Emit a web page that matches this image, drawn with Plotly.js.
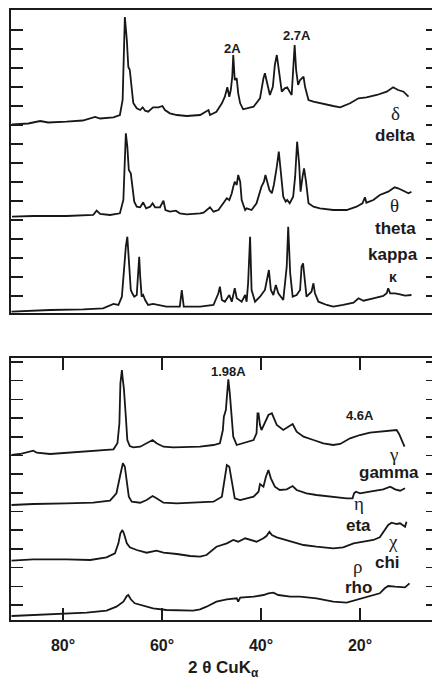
<!DOCTYPE html>
<html>
<head>
<meta charset="utf-8">
<script src="https://cdn.plot.ly/plotly-3.0.1.min.js"></script>
<style>
html,body{margin:0;padding:0;background:#fff;overflow:hidden;}
#chart{width:438px;height:680px;}
</style>
</head>
<body>
<div id="chart"></div>
<script>
// 2θ (deg) , intensity (arbitrary units)
const deltaPts = [[90.3,2.7],[87,3.5],[84.6,6],[83,4.5],[79.3,5.3],[76,6.5],[73.5,10],[72.5,8.5],[69.8,9.7],[68.5,12],[67.95,27],[67.7,94],[67.5,110],[67.1,87],[66.8,60],[66.5,57],[66.1,40],[65.8,24],[65.1,18.7],[64.4,17],[63.9,19.7],[63.4,16.3],[62.8,15.3],[61.8,19.7],[60.7,19.7],[59.9,21],[59.4,17],[58.4,13.7],[57.0,12],[55.0,11],[52.3,12],[50.6,17],[50.3,12],[49.0,15.3],[47.9,23.7],[47.3,30.3],[46.8,39.7],[46.4,30.3],[46.1,37],[45.8,50.3],[45.6,72],[45.3,47],[44.9,48.7],[44.6,33.7],[44.2,23.7],[43.6,17.7],[41.5,20.3],[40.2,28.7],[39.5,48.7],[39.2,53.7],[38.9,47],[38.2,32],[37.6,40.3],[37.2,62],[36.8,72],[36.5,60.3],[35.8,35.3],[35.2,38.7],[34.7,39.7],[34.2,35.3],[33.8,32],[33.5,57],[33.2,82],[32.9,57],[32.5,42],[32.1,47],[31.8,48.7],[31.4,50.3],[31.1,40.3],[30.4,27],[29.4,25.3],[28.1,23.7],[25.4,21],[24.0,19.7],[22.0,23.7],[20.3,28.7],[18.7,29.7],[16.6,32],[14.6,35.3],[13.3,39.7],[12.3,37],[11.2,35.3],[10.2,30.3]];
const thetaPts = [[90.3,0.3],[86.0,1],[79.3,1],[73.9,2],[73.2,6.3],[72.5,3],[70.5,2],[68.5,3.7],[67.8,17],[67.5,67],[67.3,83.7],[67.0,70.3],[66.7,47],[66.3,43.7],[66.0,30.3],[65.6,15.3],[65.1,10.3],[64.4,9.7],[63.8,14.7],[63.2,8.7],[62.4,10.3],[61.9,13.7],[61.4,9.7],[60.4,9.7],[59.7,16.3],[59.3,7],[58.4,5.3],[57.2,6.3],[56.4,3.7],[55.0,2.7],[52.3,3.7],[51.6,4.3],[50.3,9.7],[49.6,5.3],[48.6,7],[47.5,15.3],[46.9,18.7],[46.4,17],[45.9,23.7],[45.6,30.3],[45.3,35.3],[44.9,32],[44.6,42],[44.2,35.3],[43.9,17],[43.2,7],[42.9,8.7],[41.9,7],[40.9,13.7],[39.9,30.3],[39.4,35.3],[39.1,42],[38.7,35.3],[38.3,27],[37.8,23.7],[37.4,32],[36.8,50.3],[36.4,65.3],[36.0,45.3],[35.5,20.3],[35.0,15.3],[34.7,17],[34.2,13.7],[33.5,20.3],[33.1,40.3],[32.7,75.3],[32.3,53.7],[32.0,25.3],[31.6,40.3],[31.3,48.7],[30.9,35.3],[30.4,13.7],[29.4,10.3],[28.1,8.7],[25.4,7],[22.7,7],[20.7,10.3],[19.5,13.7],[19.0,19.7],[18.7,14.3],[17.3,17],[16.0,22],[14.3,25.3],[13.0,29.7],[12.3,28.7],[11.2,26.3],[10.2,23.7],[9.6,25.3]];
const kappaPts = [[90.4,-3.7],[86,-2.7],[82.6,-2],[75.9,-1.3],[71.9,-0.3],[69.8,4],[68.8,3],[68.1,11.3],[67.7,41.3],[67.3,61.3],[67.0,71.3],[66.7,44.7],[66.3,18],[66.0,14.7],[65.6,11.3],[65.1,13],[64.8,41.3],[64.6,51.3],[64.4,31.3],[64.1,11.3],[63.8,13],[63.4,8],[62.8,3],[61.8,4],[59.1,1.3],[56.4,1.3],[56.0,18],[55.6,1.3],[52.3,1.3],[49.6,3],[48.6,14.7],[48.3,21.3],[47.9,8],[47.3,6.3],[46.4,13],[45.9,6.3],[45.3,19.7],[44.9,9.7],[43.9,6.3],[43.2,13],[42.9,6.3],[42.6,24.7],[42.2,71.3],[41.9,18],[41.2,6.3],[40.2,11.3],[39.2,18],[38.6,34.7],[38.4,38],[38.0,18],[37.5,13],[37.0,23],[36.5,14.7],[35.5,8],[34.8,41.3],[34.5,81.3],[34.1,34.7],[33.6,11.3],[32.8,13],[32.1,18],[31.8,41.3],[31.5,44.7],[31.2,28],[30.8,11.3],[29.8,16.3],[29.4,24.7],[29.1,14.7],[28.4,6.3],[26.7,3],[25.4,1.3],[23.4,3],[21.3,5.3],[20.3,9.7],[19.3,7.3],[17.3,9.7],[15.3,12],[14.6,14.7],[14.3,19.7],[13.9,14.7],[12.9,14.7],[11.9,13.7],[10.9,12.3],[9.6,13]];
const gammaPts = [[90.4,-1],[88.7,0],[86.0,3.3],[85.3,1.3],[82.6,0],[79.3,1.3],[75.9,2.3],[72.5,3.3],[69.8,4.7],[69.0,10.7],[68.6,30.7],[68.4,70.7],[68.1,84],[67.9,74],[67.7,65.7],[67.3,37.3],[67.0,14],[66.5,8],[65.8,6.7],[64.4,7.3],[63.1,10.7],[61.9,14],[61.1,10.7],[59.7,7.3],[57.7,6.7],[55.0,6.7],[52.3,7.3],[49.6,9],[48.3,10.7],[47.7,24],[47.5,37.3],[47.1,44],[46.7,74],[46.6,74.7],[46.3,60.7],[45.9,37.3],[45.6,17.3],[44.9,9],[43.6,10.7],[42.9,12.3],[41.5,14],[40.9,20.7],[40.7,40.7],[40.5,40.7],[40.2,29],[39.9,24],[39.2,32.3],[38.5,39],[37.8,40.7],[37.5,37.3],[36.8,29],[35.5,24],[34.3,27.3],[33.6,30],[32.8,22.3],[31.4,17.3],[29.4,14],[27.4,10.7],[25.4,9],[24.0,10],[22.0,15.7],[20.0,19],[18.0,21.3],[16.0,22.3],[13.9,23],[12.6,24],[12.1,20],[11.6,14],[11.0,7.3]];
const etaPts = [[90.4,-1],[86.0,0],[79.3,0.7],[73.9,1.3],[70.5,3.3],[69.2,10.7],[68.5,27.3],[67.9,40.7],[67.5,37.3],[67.1,20.7],[66.7,7.3],[66.1,2.3],[64.4,1.3],[63.1,4],[61.9,8],[61.1,5.7],[59.7,1.3],[57.0,0.7],[53.7,1.3],[49.6,2.3],[47.9,7.3],[47.5,20.7],[46.9,39],[46.4,37.3],[46.1,27.3],[45.7,14],[45.3,5.7],[44.2,4],[41.5,7.3],[40.5,12.3],[40.2,20],[39.5,17.3],[39.0,27.3],[38.5,34],[38.0,25.7],[37.2,17.3],[36.2,14],[34.8,14.7],[33.6,18],[32.8,14],[30.8,10.7],[28.8,9],[26.1,7.3],[22.7,5.7],[21.5,5.7],[21.2,10.7],[20.8,12.3],[20.0,10.7],[18.0,12.3],[15.3,14.7],[13.9,17.3],[12.9,14.7],[11.9,13.3],[10.9,15.7]];
const chiPts = [[90.4,-0.7],[86.0,0.7],[79.3,0.7],[74.5,0],[71.2,2.7],[69.5,6.7],[68.8,16.7],[68.4,26.7],[68.0,30],[67.7,26.7],[67.1,16.7],[66.5,12.7],[65.1,10],[63.1,7.3],[61.1,9.3],[59.7,7.3],[57.0,6],[54.3,4],[52.3,3.3],[51.0,5],[49.0,13.3],[46.9,16.7],[45.6,20],[44.6,18.3],[43.2,21.7],[42.2,20],[40.9,18.3],[39.5,21.7],[38.9,24],[38.3,28.3],[37.8,25],[36.8,22.7],[35.5,20.7],[33.5,18.3],[31.4,15],[28.8,13.3],[25.4,11.7],[23.4,12.7],[21.3,16.7],[19.3,18.3],[17.3,20],[16.0,22.7],[15.3,28.3],[14.3,35],[13.6,37.3],[12.6,36],[11.9,36.7],[10.9,33.3],[10.6,38.3]];
const rhoPts = [[90.4,-1],[86.0,0],[79.9,1],[75.2,2.3],[71.2,4.3],[69.2,8.3],[67.8,13.3],[67.1,19],[66.8,20],[66.3,15.7],[65.5,11.7],[64.4,10],[61.8,6.7],[59.1,5],[56.4,4.3],[53.7,4.3],[52.3,5.7],[51.0,8.3],[49.0,13.3],[46.9,15.7],[44.9,16.7],[44.6,13.3],[44.2,17.3],[41.5,18.3],[39.5,20],[38.5,21.7],[37.5,22.3],[36.5,20],[34.1,18.3],[32.1,18.3],[28.8,16.7],[25.4,13.3],[22.7,12.3],[20.7,15],[18.0,18.3],[16.0,21.7],[15.0,26.7],[14.3,29],[12.9,28.3],[11.9,27.7],[10.9,27.7],[10.0,31.7]];

// stacking offsets of each pattern (same units as intensity)
const topNames = ['delta','theta','kappa'];
const topOffsets = [186, 96, 5];
const bottomNames = ['gamma','eta','chi','rho'];
const bottomOffsets = [166, 116, 60, 5];

const xTickVals = [80, 60, 40, 20];
const xTickText = ['80°', '60°', '40°', '20°'];

const series = {delta: deltaPts, theta: thetaPts, kappa: kappaPts,
                gamma: gammaPts, eta: etaPts, chi: chiPts, rho: rhoPts};

const lineStyle = {color: '#171717', width: 1.8};
const traces = [];
topNames.forEach((n, i) => {
  traces.push({type: 'scatter', mode: 'lines', name: n, xaxis: 'x', yaxis: 'y',
    x: series[n].map(p => p[0]), y: series[n].map(p => p[1] + topOffsets[i]),
    line: lineStyle, hoverinfo: 'skip'});
});
bottomNames.forEach((n, i) => {
  traces.push({type: 'scatter', mode: 'lines', name: n, xaxis: 'x2', yaxis: 'y2',
    x: series[n].map(p => p[0]), y: series[n].map(p => p[1] + bottomOffsets[i]),
    line: lineStyle, hoverinfo: 'skip'});
});

const sans = 'Liberation Sans, Arial, sans-serif';
const serif = 'Liberation Serif, Times New Roman, serif';
const ink = '#1b1b1b';
function lab(text, x, y, ax, size, family, weight) {
  return {text: text, x: x, y: y, xref: ax[0], yref: ax[1], showarrow: false,
    xanchor: 'center', yanchor: 'middle',
    font: {family: family || sans, size: size || 17, color: ink, weight: weight || 'bold'}};
}
const T = ['x', 'y'], B = ['x2', 'y2'];
const annotations = [
  lab('2A', 45.66, 265, T, 13),
  lab('2.7A', 32.7, 278, T, 13),
  lab('δ', 12.9, 200, T, 19, serif, 'normal'),
  lab('delta', 12.9, 177, T, 17),
  lab('θ', 13.1, 107, T, 19, serif, 'normal'),
  lab('theta', 12.9, 84, T, 17),
  lab('kappa', 13.3, 58, T, 17),
  lab('κ', 13.3, 36, T, 14),
  lab('1.98A', 46.5, 249, B, 13),
  lab('4.6A', 20.0, 205, B, 13),
  lab('γ', 13.3, 166, B, 19, serif, 'normal'),
  lab('gamma', 14.1, 148, B, 17),
  lab('η', 20.2, 117, B, 19, serif, 'normal'),
  lab('eta', 20.4, 95, B, 17),
  lab('χ', 13.3, 79, B, 19, serif, 'normal'),
  lab('chi', 14.5, 58, B, 17),
  lab('ρ', 20.6, 54, B, 19, serif, 'normal'),
  lab('rho', 20.4, 33, B, 17),
  {text: '2 θ CuK<sub>α</sub>', x: 0.4965, y: -0.08,
   xref: 'paper', yref: 'paper', showarrow: false, xanchor: 'center', yanchor: 'middle',
   font: {family: sans, size: 17, color: ink, weight: 'bold'}}
];

const frame = {showline: true, linecolor: ink, linewidth: 2, mirror: true,
  showgrid: false, zeroline: false};
const layout = {
  width: 438, height: 680,
  margin: {l: 11, r: 0, t: 10, b: 60},
  paper_bgcolor: '#fff', plot_bgcolor: '#fff',
  showlegend: false,
  xaxis: Object.assign({}, frame, {anchor: 'y', range: [90.5, 4.24], ticks: '',
    showticklabels: false}),
  yaxis: Object.assign({}, frame, {domain: [0.5033, 1], anchor: 'x', range: [0, 303],
    tick0: 17, dtick: 19, ticks: 'inside', ticklen: 12, tickwidth: 1.6, tickcolor: ink,
    mirror: 'ticks', showticklabels: false}),
  xaxis2: Object.assign({}, frame, {anchor: 'y2', range: [90.5, 4.24],
    tickmode: 'array', tickvals: xTickVals, ticktext: xTickText,
    ticks: 'inside', ticklen: 12, tickwidth: 1.6, tickcolor: ink, mirror: 'ticks',
    ticklabelstandoff: 10,
    tickfont: {family: sans, size: 16, color: ink, weight: 'bold'}}),
  yaxis2: Object.assign({}, frame, {domain: [0, 0.4295], anchor: 'x2', range: [0, 262],
    tick0: 15, dtick: 18.7, ticks: 'inside', ticklen: 12, tickwidth: 1.6, tickcolor: ink,
    mirror: 'ticks', showticklabels: false}),
  annotations: annotations
};

Plotly.newPlot('chart', traces, layout, {displayModeBar: false, staticPlot: true});
</script>
</body>
</html>
